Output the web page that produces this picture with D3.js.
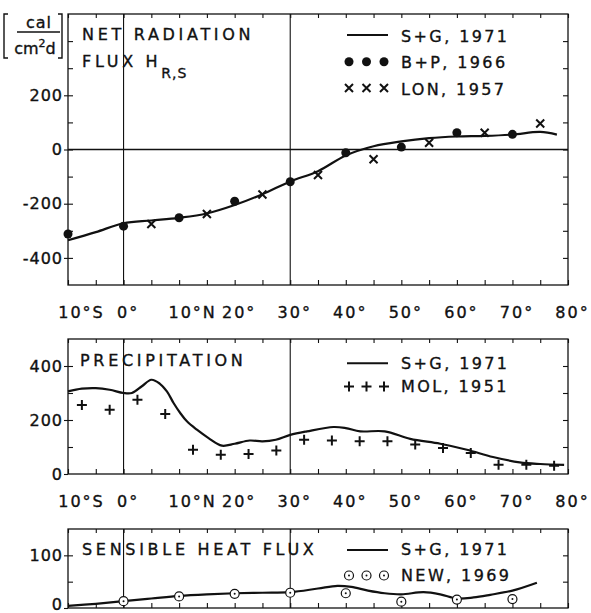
<!DOCTYPE html>
<html>
<head>
<meta charset="utf-8">
<script src="https://cdn.jsdelivr.net/npm/d3@7"></script>
<style>
  body { margin: 0; background: #fff; }
  svg text { font-family: "DejaVu Sans", sans-serif; fill: #111; stroke: #111; stroke-width: 0.35px; }
</style>
</head>
<body>
<script>
// latitude ticks and labels, shared by the three panels
var latTicks = d3.range(-10, 81, 5);
var latLabelVals = [-10, 0, 10, 20, 30, 40, 50, 60, 70, 80];
var latLabelText = ["10°S", "0°", "10°N", "20°", "30°", "40°", "50°", "60°", "70°", "80°"];

// net radiation flux (cal / cm2 d)
var radLatSG = [-10, -5, 0, 5, 10, 15, 20, 25, 30, 35, 40, 45, 50, 55, 60, 65, 70, 75, 78];
var radSG    = [-335, -305, -272, -262, -252, -236, -205, -165, -118, -80, -22, 12, 30, 42, 48, 50, 55, 65, 55];
var radLatBP = [-10, 0, 10, 20, 30, 40, 50, 60, 70];
var radBP    = [-312, -283, -252, -191, -119, -12, 9, 62, 56];
var radLatLON = [5, 15, 25, 35, 45, 55, 65, 75];
var radLON    = [-275, -238, -166, -94, -36, 25, 62, 96];

// precipitation
var preLatSG = [-10, -7.5, -5, -2.5, 0, 1.5, 3.3, 5, 6.5, 7.8, 9, 10.2, 11.4, 13.2, 15.3, 17.7, 20, 22.7, 25, 27.4, 30, 33, 37.8, 40, 42.6, 47, 51.6, 57, 61.8, 66.5, 71.3, 75, 79.3];
var preSG    = [306, 316, 318, 312, 300, 300, 325, 349, 335, 306, 263, 226, 195, 164, 133, 105, 112, 124, 121, 127, 145, 158, 174, 170, 158, 158, 130, 112, 90, 63, 43, 37, 34];
var preLatMOL = [-7.5, -2.5, 2.5, 7.5, 12.5, 17.5, 22.5, 27.5, 32.5, 37.5, 42.5, 47.5, 52.5, 57.5, 62.5, 67.5, 72.5, 77.5];
var preMOL    = [256, 238, 275, 222, 90, 71, 74, 87, 127, 124, 121, 121, 109, 96, 78, 34, 34, 31];

// sensible heat flux
var senLatSG = [-10, -5, 0, 5, 10, 15, 20, 25, 30, 35, 38.5, 41, 44, 47, 50, 54, 57, 60, 63, 66, 70, 74.4];
var senSG    = [4, 8, 13, 18, 23, 26, 28, 29, 30, 37, 42, 40, 33, 28, 26, 30, 26, 18, 20, 25, 33, 48];
var senLatNEW = [0, 10, 20, 30, 40, 50, 60, 70];
var senNEW    = [13, 22, 27, 29, 28, 12, 16, 17];

var svg = d3.select("body").append("svg")
    .attr("width", 591)
    .attr("height", 613);

var x = d3.scaleLinear().domain([-10, 80]).range([68, 568]);

function pts(lats, vals) {
  return lats.map(function(d, i) { return [d, vals[i]]; });
}

// draws frame, ticks, reference lines and returns the y scale
function panel(top, bottom, yDomain, yMinor, yLabels, withXLabels) {
  var y = d3.scaleLinear().domain(yDomain).range([bottom, top]);
  var g = svg.append("g");

  // vertical reference lines at the equator and 30N
  g.selectAll(".ref").data([0, 30]).enter().append("line")
      .attr("x1", function(d) { return x(d); })
      .attr("x2", function(d) { return x(d); })
      .attr("y1", top).attr("y2", bottom)
      .attr("stroke", "#111").attr("stroke-width", 1.1);

  if (yDomain[0] < 0) {
    g.append("line")
        .attr("x1", x(-10)).attr("x2", x(80))
        .attr("y1", y(0)).attr("y2", y(0))
        .attr("stroke", "#111").attr("stroke-width", 1.3);
  }

  g.append("rect")
      .attr("x", x(-10)).attr("y", top)
      .attr("width", x(80) - x(-10)).attr("height", bottom - top)
      .attr("fill", "none").attr("stroke", "#111").attr("stroke-width", 1.3);

  var axes = [
    [d3.axisRight(y).tickValues(yMinor).tickSize(5), "translate(" + x(-10) + ",0)"],
    [d3.axisLeft(y).tickValues(yMinor).tickSize(5), "translate(" + x(80) + ",0)"],
    [d3.axisTop(x).tickValues(latTicks).tickSize(5), "translate(0," + bottom + ")"],
    [d3.axisBottom(x).tickValues(latTicks).tickSize(4), "translate(0," + top + ")"]
  ];
  axes.forEach(function(a) {
    var ag = g.append("g").attr("transform", a[1])
        .call(a[0].tickFormat(""));
    ag.select(".domain").remove();
    ag.selectAll("line").attr("stroke", "#111").attr("stroke-width", 1.1);
  });

  // labelled y ticks
  var yl = g.append("g").attr("transform", "translate(" + x(-10) + ",0)")
      .call(d3.axisLeft(y).tickValues(yLabels).tickSize(4).tickPadding(1)
        .tickFormat(function(d) { return String(d); }));
  yl.select(".domain").remove();
  yl.selectAll("line").attr("stroke", "#111").attr("stroke-width", 1.1);
  yl.selectAll("text")
      .attr("font-size", 16).attr("fill", "#111")
      .style("letter-spacing", "1px")
      .attr("font-family", "DejaVu Sans")
      // keep a label at the very bottom edge of the page inside it
      .attr("dy", function(d) { return y(d) > 600 ? "0.1em" : "0.32em"; });

  if (withXLabels) {
    var xl = g.append("g").attr("transform", "translate(0," + bottom + ")")
        .call(d3.axisBottom(x).tickValues(latLabelVals).tickSize(0)
          .tickFormat(function(d, i) { return latLabelText[i]; }));
    xl.select(".domain").remove();
    xl.selectAll("text")
        .attr("y", 33).attr("dy", 0)
        .attr("dx", function(d, i) { return latLabelText[i].length > 3 && d !== 20 ? 13 : 4; })
        .attr("font-size", 16).attr("fill", "#111")
        .style("letter-spacing", "2px")
        .attr("font-family", "DejaVu Sans");
  }
  return y;
}

function curve(y, lats, vals) {
  var line = d3.line()
      .x(function(d) { return x(d[0]); })
      .y(function(d) { return y(d[1]); })
      .curve(d3.curveCatmullRom.alpha(0.5));
  svg.append("path")
      .attr("d", line(pts(lats, vals)))
      .attr("fill", "none").attr("stroke", "#111")
      .attr("stroke-width", 2.2).attr("stroke-linejoin", "round");
}

function marker(sel, kind) {
  if (kind === "dot") {
    sel.append("circle").attr("r", 4.5).attr("fill", "#111");
  } else if (kind === "cross") {
    sel.append("path").attr("d", "M-4,-4L4,4M-4,4L4,-4")
        .attr("stroke", "#111").attr("stroke-width", 2);
  } else if (kind === "plus") {
    sel.append("path").attr("d", "M-5,0H5M0,-5V5")
        .attr("stroke", "#111").attr("stroke-width", 2);
  } else {
    sel.append("circle").attr("r", 4.5).attr("fill", "#fff")
        .attr("stroke", "#111").attr("stroke-width", 1.2);
    sel.append("circle").attr("r", 1).attr("fill", "#111");
  }
}

function markers(y, lats, vals, kind) {
  svg.append("g").selectAll("g")
      .data(pts(lats, vals))
    .enter().append("g")
      .attr("transform", function(d) { return "translate(" + x(d[0]) + "," + y(d[1]) + ")"; })
      .each(function() { marker(d3.select(this), kind); });
}

function title(xp, yp, txt) {
  return svg.append("text").attr("x", xp).attr("y", yp)
      .attr("font-size", 16).style("letter-spacing", "3.7px").text(txt);
}

function legend(yLine, yBase, kind, txt) {
  if (kind === "line") {
    svg.append("line").attr("x1", 347).attr("x2", 388)
        .attr("y1", yLine).attr("y2", yLine)
        .attr("stroke", "#111").attr("stroke-width", 2);
  } else {
    [349, 366.5, 384].forEach(function(px) {
      marker(svg.append("g").attr("transform", "translate(" + px + "," + yLine + ")"), kind);
    });
  }
  svg.append("text").attr("x", 401).attr("y", yBase)
      .attr("font-size", 16).style("letter-spacing", "2.4px").text(txt);
}

// ---- panel 1: net radiation
var y1 = panel(14, 285, [-500, 500], d3.range(-400, 500, 100), [200, 0, -200, -400], true);
curve(y1, radLatSG, radSG);
markers(y1, radLatBP, radBP, "dot");
markers(y1, radLatLON, radLON, "cross");
title(82, 39.5, "NET RADIATION");
var fl = title(82, 66.5, "FLUX H");
fl.append("tspan").attr("font-size", 14).attr("dy", 11).style("letter-spacing", "1px").text("R,S");
legend(35, 41.5, "line", "S+G, 1971");
legend(61.7, 68, "dot", "B+P, 1966");
legend(88, 95, "cross", "LON, 1957");

// unit label [cal / cm2 d]
var unit = svg.append("g");
unit.append("path")
    .attr("d", "M8,14H4V58H8M58,14H62V58H58")
    .attr("fill", "none").attr("stroke", "#111").attr("stroke-width", 1.4);
unit.append("line").attr("x1", 17).attr("x2", 60).attr("y1", 32).attr("y2", 32)
    .attr("stroke", "#111").attr("stroke-width", 1.5);
unit.append("text").attr("x", 39).attr("y", 27.5).attr("text-anchor", "middle")
    .attr("font-size", 16).style("letter-spacing", "1px").text("cal");
var cm = unit.append("text").attr("x", 35).attr("y", 53.5).attr("text-anchor", "middle")
    .attr("font-size", 16).text("cm");
cm.append("tspan").attr("font-size", 11).attr("dy", -7).text("2");
cm.append("tspan").attr("dy", 7).text("d");

// ---- panel 2: precipitation
var y2 = panel(339, 474, [0, 500], d3.range(100, 500, 100), [400, 200, 0], true);
curve(y2, preLatSG, preSG);
markers(y2, preLatMOL, preMOL, "plus");
title(80, 366, "PRECIPITATION");
legend(363.3, 368.5, "line", "S+G, 1971");
legend(386.5, 392, "plus", "MOL, 1951");

// ---- panel 3: sensible heat flux
var y3 = panel(529, 608, [0, 150], [50, 100], [100, 0], false);
curve(y3, senLatSG, senSG);
markers(y3, senLatNEW, senNEW, "odot");
title(82, 555, "SENSIBLE HEAT FLUX");
legend(550, 555, "line", "S+G, 1971");
legend(575.5, 580.5, "odot", "NEW, 1969");
</script>
</body>
</html>
